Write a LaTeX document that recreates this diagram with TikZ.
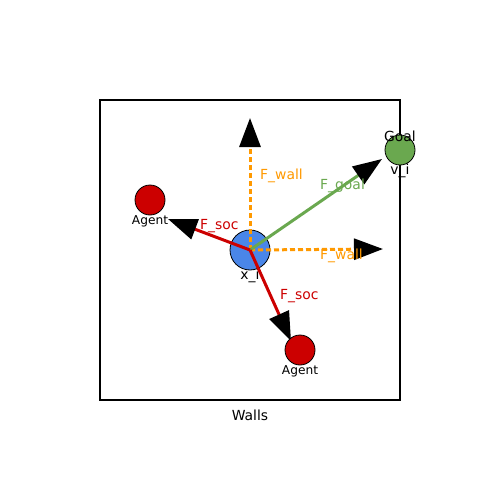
\documentclass[tikz,border=0pt]{standalone}
\usepackage{fontspec}
\setmainfont{DejaVu Sans}
\usetikzlibrary{arrows.meta}
\usetikzlibrary{positioning}
\definecolor{socred}{HTML}{CC0000}
\definecolor{wallorange}{HTML}{FF9900}
\definecolor{goalgreen}{HTML}{6AA84F}
\definecolor{selfblue}{HTML}{4A86E8}
\begin{document}
\begin{tikzpicture}[x=1pt,y=1pt,yscale=-1,xscale=1]
  \useasboundingbox (0,0) rectangle (500,500);
  \tikzstyle{force} = [line width=3pt,-{Triangle[length=29pt,width=21pt,black]}]
  \tikzstyle{wall} = [force,wallorange,dash pattern=on 5pt off 3pt]
  \tikzstyle{body} = [circle,draw=black,line width=0.8pt,inner sep=0pt]
  \tikzstyle{lbl} = [inner sep=0pt,font=\fontsize{13.9}{16}\selectfont]
  \tikzstyle{small} = [inner sep=0pt,font=\fontsize{12.2}{14}\selectfont]
  %Draw the walls
  \draw [line width=1.5pt] (100,100) rectangle (400,400);
  \node [lbl] (walls) at (250,415) {Walls};
  %Draw the pedestrian
  \node [body,fill=selfblue,minimum size=40pt] (xi) at (250,250) {};
  \node [lbl] (xilbl) at (250,276) {x\_i};
  % Tips of the forces
  \coordinate (wallup) at (250,118);
  \coordinate (wallright) at (383,249);
  \coordinate (goaltip) at (382,159);
  \coordinate (soctipa) at (168,219);
  \coordinate (soctipb) at (291,341);
  %Draw the forces
  \draw [wall] (xi.center) -- (wallup);
  \draw [wall] (xi.center) -- (wallright);
  \draw [force,goalgreen] (xi.center) -- (goaltip);
  \draw [force,socred] (xi.center) -- (soctipa);
  \draw [force,socred] (xi.center) -- (soctipb);
  % Label the forces
  \node [lbl,text=wallorange,anchor=west] (fwallup) at (260,176) {F\_wall};
  \node [lbl,text=wallorange,anchor=west] (fwallright) at (320,256) {F\_wall};
  \node [lbl,text=goalgreen,anchor=west] (fgoal) at (320,186) {F\_goal};
  \node [lbl,text=socred,anchor=west] (fsoca) at (200,226) {F\_soc};
  \node [lbl,text=socred,anchor=west] (fsocb) at (280,296) {F\_soc};
  %Draw the other agents
  \node [body,fill=socred,minimum size=30pt] (agenta) at (150,200) {};
  \node [small] (agentalbl) at (150,221) {Agent};
  \node [body,fill=socred,minimum size=30pt] (agentb) at (300,350) {};
  \node [small] (agentblbl) at (300,371) {Agent};
  %Draw the goal
  \node [body,fill=goalgreen,minimum size=30pt] (goal) at (400,150) {};
  \node [lbl] (goallbl) at (400,136) {Goal};
  \node [lbl] (vilbl) at (400,171) {v\_i};
\end{tikzpicture}
\end{document}
